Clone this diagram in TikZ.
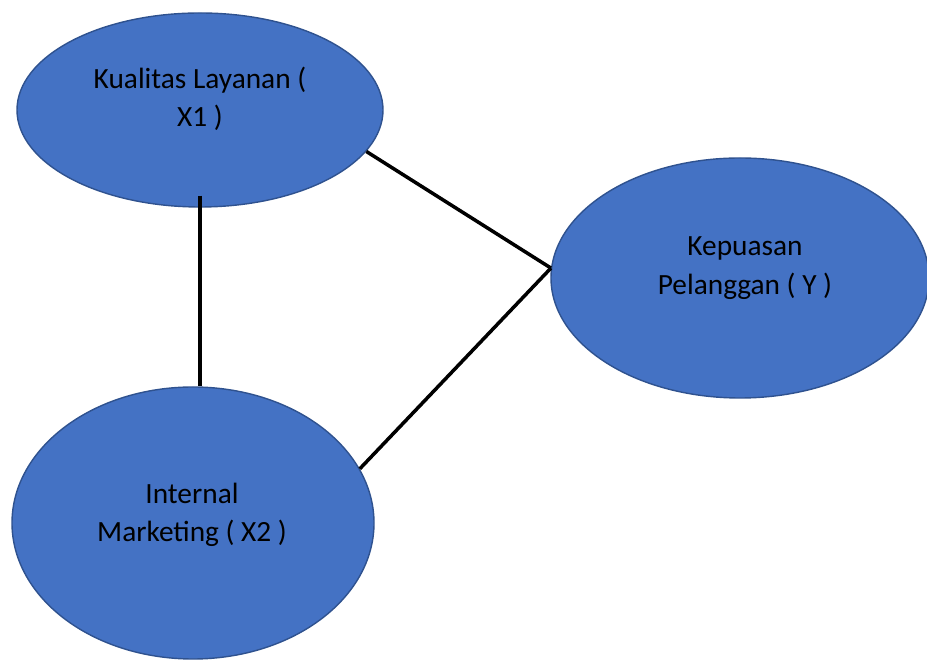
\documentclass[tikz,border=0pt]{standalone}
\usepackage{fontspec}
\setmainfont{Carlito}
\usepackage{tikz}
\usetikzlibrary{shapes.geometric}

\definecolor{kreisblau}{RGB}{68,114,196}
\definecolor{randblau}{RGB}{47,82,143}

\begin{document}
\begin{tikzpicture}[
    variabel/.style={
      ellipse,
      fill=kreisblau,
      draw=randblau,
      line width=0.8pt,
      inner sep=0pt},
    beschriftung/.style={
      align=center,
      font=\fontsize{16.7}{21.8}\selectfont},
    verbindung/.style={
      line width=2pt,
      black}
    ]

  \clip (0,0) rectangle (18.54,13.2);

  \node at (4.0,11.0) (x1) [variabel, minimum width=7.32cm, minimum height=3.88cm] {};
  \node at (14.8,7.64) (y) [variabel, minimum width=7.56cm, minimum height=4.8cm] {};
  \node at (3.86,2.74) (x2) [variabel, minimum width=7.24cm, minimum height=5.44cm] {};

  \node at (4.0,11.22) (x1text) [beschriftung] {Kualitas Layanan (\\X1 )};
  \node at (14.9,7.84) (ytext) [beschriftung] {Kepuasan\\Pelanggan ( Y )};
  \node at (3.84,2.9) (x2text) [beschriftung] {Internal\\Marketing ( X2 )};

  \path [verbindung] (x1.south) edge [shorten <=-0.24cm] (x1.south |- x2.north);
  \path [verbindung] (x1.-14) edge [] (y.177);
  \path [verbindung] (y.177) edge [] (x2.18);

\end{tikzpicture}
\end{document}
